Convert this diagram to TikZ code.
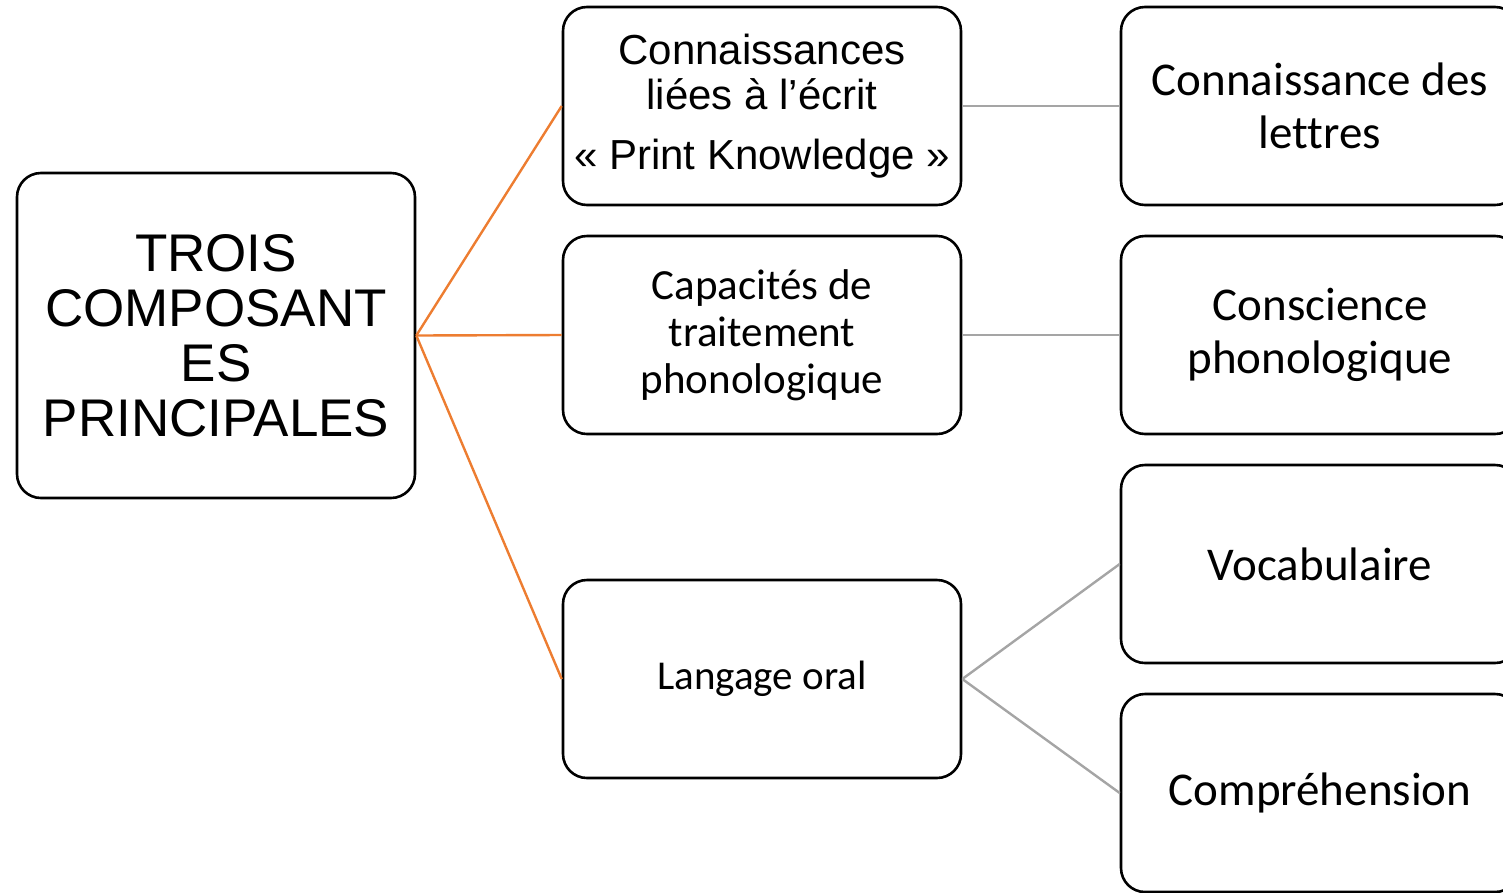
\documentclass[tikz,border=0pt]{standalone}
\usepackage{fontspec}
\setmainfont{Liberation Sans}
\newfontfamily\carlito[Ligatures=NoCommon]{Carlito}
\definecolor{linkorange}{HTML}{ED7D31}
\definecolor{linkgray}{HTML}{A5A5A5}
\begin{document}
\begin{tikzpicture}[x=1pt, y=-1pt, line join=round]
			\tikzstyle{box}    = [draw=black, line width=2.6pt, rounded corners=24pt, minimum width=398pt, minimum height=198pt, align=center, inner sep=0pt]
			\tikzstyle{boxR}   = [box, minimum height=325pt, font=\fontsize{53}{55}\selectfont]
			\tikzstyle{boxS}   = [box, font=\carlito\fontsize{43}{47}\selectfont]
			\tikzstyle{boxL}   = [box, font=\carlito\fontsize{47}{53}\selectfont]
			\tikzstyle{linkA}  = [draw=linkorange, line width=2.4pt]
			\tikzstyle{linkB}  = [draw=linkgray, line width=2.4pt]

			\useasboundingbox (0,0) rectangle (1503,892);

			\node[boxR] (trois) at (216, 335.5) {TROIS\\COMPOSANT\\ES\\PRINCIPALES};

			\node[box, font=\fontsize{42}{45}\selectfont] (ecrit) at (762, 106) {Connaissances\\liées à l’écrit\\[15pt]« Print Knowledge »};
			\node[boxS] (phono) at (762, 335) {Capacités de\\traitement\\phonologique};
			\node[boxS, font=\carlito\fontsize{41}{47}\selectfont] (oral) at (762, 679) {Langage oral};

			\node[boxL] (lettres) at (1320, 106) {Connaissance des\\lettres};
			\node[boxL] (conscience) at (1320, 335) {Conscience\\phonologique};
			\node[boxL] (vocab) at (1320, 564) {Vocabulaire};
			\node[boxL] (compr) at (1320, 793) {Compréhension};

			\foreach \to in {ecrit, phono, oral}
				\path[linkA] (trois.east) -- (\to.west);

			\foreach \from/\to in {ecrit/lettres, phono/conscience, oral/vocab, oral/compr}
				\path[linkB] (\from.east) -- (\to.west);

		\end{tikzpicture}
\end{document}
